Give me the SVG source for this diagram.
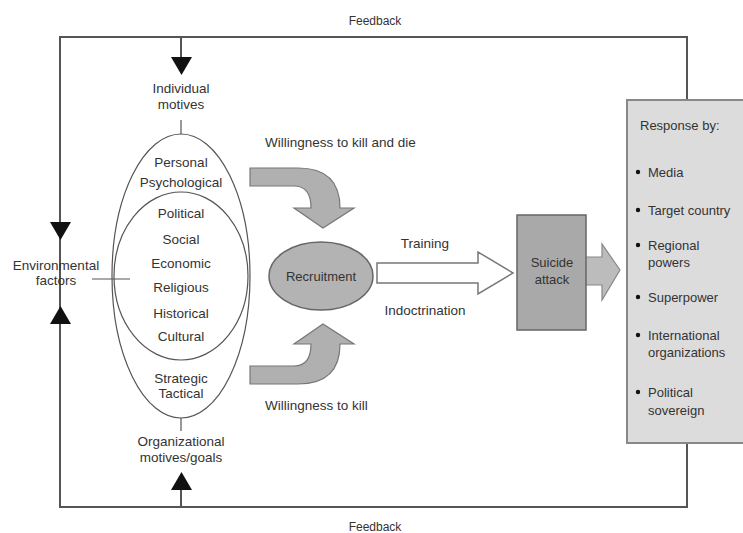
<svg xmlns="http://www.w3.org/2000/svg" width="743" height="533" viewBox="0 0 743 533">
<style>
text{font-family:"Liberation Sans",Arial,sans-serif;font-size:13.5px;fill:#333}
.c{text-anchor:middle}
.box{font-size:13px}
.line{fill:none;stroke:#555;stroke-width:2}
.thin{fill:none;stroke:#555;stroke-width:1.2}
.head{fill:#111;stroke:none}
.garrow{fill:#b0b0b0;stroke:#777;stroke-width:1.2}
</style>
<rect width="743" height="533" fill="#fff"/>
<g id="connectors">
<path class="line" d="M687,100 L687,37 L60,37 L60,507 L687,507 L687,443"/>
<line class="line" x1="181" y1="37" x2="181" y2="60"/>
<polygon class="head" points="171,57 192,57 181.5,75"/>
<line class="line" x1="181" y1="507" x2="181" y2="488"/>
<polygon class="head" points="171,490 192,490 181.5,472"/>
<polygon class="head" points="50,222 71,222 60.5,240"/>
<polygon class="head" points="50,324 71,324 60.5,306"/>
<line class="thin" x1="181" y1="120" x2="181" y2="134"/>
<line class="thin" x1="181" y1="418" x2="181" y2="431"/>
<line class="thin" x1="92" y1="279" x2="130" y2="279"/>
<path class="garrow" d="M250,168 L298,168 Q340,168 340,208 L354,208 L323,228 L294,208 L311,208 Q311,186 294,186 L250,186 Z"/>
<path class="garrow" d="M250,384 L298,384 Q340,384 340,344 L354,344 L323,324 L294,344 L311,344 Q311,366 294,366 L250,366 Z"/>
<polygon points="377,263 478,263 478,252 513,273 478,294 478,283 377,283" fill="#fff" stroke="#777" stroke-width="1.5"/>
<polygon points="585,257 602,257 602,244 620,270 602,300 602,285 585,285" fill="#bcbcbc" stroke="#888" stroke-width="1.2"/>
</g>
<g id="feedback-labels">
<text class="c" x="375" y="25" style="font-size:12px">Feedback</text>
<text class="c" x="375" y="531" style="font-size:12px">Feedback</text>
</g>
<g id="individual-motives">
<text class="c" x="181" y="93">Individual</text>
<text class="c" x="181" y="109">motives</text>
</g>
<g id="motives-ellipses">
<ellipse class="thin" cx="181" cy="276" rx="69" ry="142"/>
<ellipse class="thin" cx="181" cy="276" rx="67" ry="84"/>
<text class="c" x="181" y="167">Personal</text>
<text class="c" x="181" y="187">Psychological</text>
<text class="c" x="181" y="218">Political</text>
<text class="c" x="181" y="244">Social</text>
<text class="c" x="181" y="268">Economic</text>
<text class="c" x="181" y="292">Religious</text>
<text class="c" x="181" y="318">Historical</text>
<text class="c" x="181" y="341">Cultural</text>
<text class="c" x="181" y="383">Strategic</text>
<text class="c" x="181" y="398">Tactical</text>
</g>
<g id="organizational-motives">
<text class="c" x="181" y="446">Organizational</text>
<text class="c" x="181" y="462">motives/goals</text>
</g>
<g id="environmental-factors">
<text class="c" x="56" y="270">Environmental</text>
<text class="c" x="56" y="285">factors</text>
</g>
<g id="willingness-labels">
<text x="265" y="147">Willingness to kill and die</text>
<text x="265" y="410">Willingness to kill</text>
</g>
<g id="recruitment">
<ellipse cx="321" cy="276" rx="52" ry="34" fill="#b3b3b3" stroke="#666" stroke-width="1.5"/>
<text class="c" x="321" y="281" style="font-size:13px">Recruitment</text>
</g>
<g id="training-labels">
<text class="c" x="425" y="248">Training</text>
<text class="c" x="425" y="315">Indoctrination</text>
</g>
<g id="suicide-attack">
<rect x="517" y="215" width="69" height="115" fill="#a9a9a9" stroke="#666" stroke-width="1.5"/>
<text class="c" x="552" y="267" style="font-size:13px">Suicide</text>
<text class="c" x="552" y="284" style="font-size:13px">attack</text>
</g>
<g id="response">
<rect x="627" y="100" width="130" height="343" fill="#dcdcdc" stroke="#888" stroke-width="2"/>
<text class="box" x="640" y="130">Response by:</text>
<g fill="#111">
<circle cx="638" cy="172" r="2.2"/>
<circle cx="638" cy="210" r="2.2"/>
<circle cx="638" cy="245" r="2.2"/>
<circle cx="638" cy="297" r="2.2"/>
<circle cx="638" cy="335" r="2.2"/>
<circle cx="638" cy="392" r="2.2"/>
</g>
<text class="box" x="648" y="177">Media</text>
<text class="box" x="648" y="215">Target country</text>
<text class="box" x="648" y="250">Regional</text>
<text class="box" x="648" y="267">powers</text>
<text class="box" x="648" y="302">Superpower</text>
<text class="box" x="648" y="340">International</text>
<text class="box" x="648" y="357">organizations</text>
<text class="box" x="648" y="397">Political</text>
<text class="box" x="648" y="415">sovereign</text>
</g>
</svg>
